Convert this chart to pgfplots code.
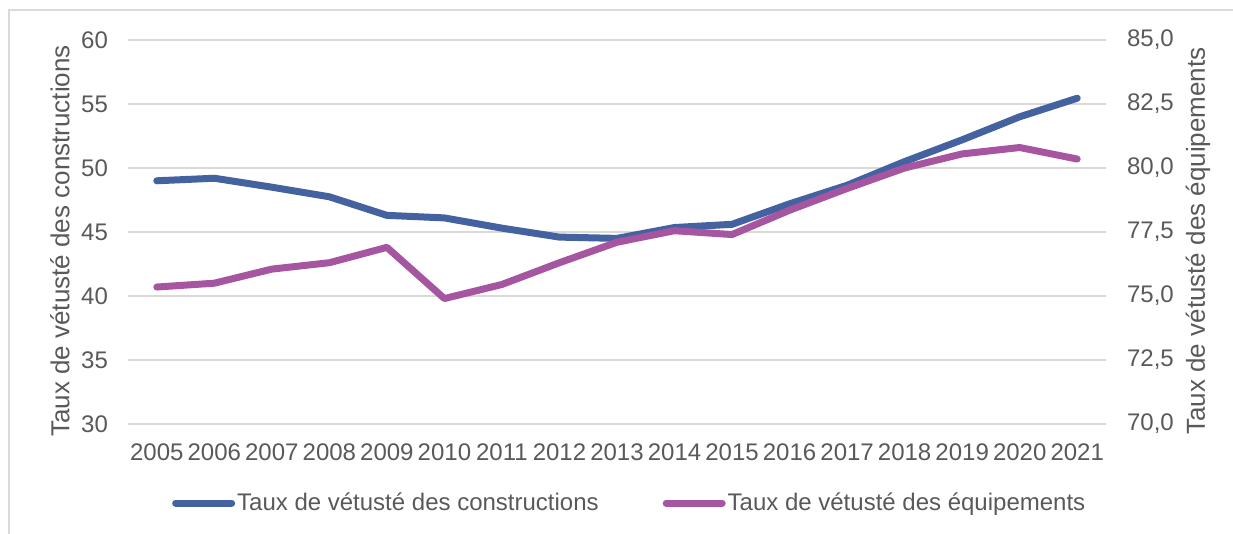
\documentclass[border=0pt]{standalone}
\usepackage{fontspec}
\setmainfont{Liberation Sans}
\usepackage{pgfplots}
\usepackage{pgfplotstable}
\pgfplotsset{compat=1.18}
\definecolor{cblue}{RGB}{68,98,160}
\definecolor{cpurple}{RGB}{166,86,160}
\definecolor{ctext}{RGB}{89,89,89}
\definecolor{cgrid}{RGB}{217,217,217}

\pgfplotstableread{
x c e
0 49.0 75.35
1 49.2 75.5
2 48.5 76.05
3 47.75 76.3
4 46.3 76.9
5 46.1 74.9
6 45.3 75.45
7 44.6 76.3
8 44.5 77.1
9 45.35 77.55
10 45.6 77.4
11 47.2 78.35
12 48.65 79.2
13 50.5 80.0
14 52.2 80.55
15 54.0 80.8
16 55.45 80.35
}\data

\pgfplotsset{
 common/.style={
  scale only axis, width=489pt, height=192pt, at={(64pt,55pt)}, anchor=south west,
  xmin=-0.5, xmax=16.5,
  axis line style={draw=none},
  major tick length=0pt,
  tick label style={font=\fontsize{12}{14}\selectfont, text=ctext},
  /pgf/number format/assume math mode=true,
 },
 series/.style={line width=3.5pt, line join=round, line cap=round},
}

\begin{document}
\begin{tikzpicture}
\useasboundingbox (0,0) rectangle (616.5pt,267pt);
\draw[cgrid, line width=0.7pt] (4.5pt,-5pt) -- (4.5pt,262pt) -- (630pt,262pt);

\begin{axis}[common,
  ymin=30, ymax=60, ytick={30,35,...,60},
  xtick={0,...,16},
  xticklabels={2005,2006,2007,2008,2009,2010,2011,2012,2013,2014,2015,2016,2017,2018,2019,2020,2021},
  ymajorgrids, grid style={cgrid, line width=0.8pt},
  yticklabel style={xshift=-6.5pt},
  xticklabel style={yshift=-6.25pt},
  ylabel={Taux de vétusté des constructions},
  every axis y label/.style={at={(axis description cs:-0.0695,0.4766)}, rotate=90, anchor=center, font=\fontsize{13}{15}\selectfont, text=ctext},
]
\addplot[series, cblue] table[x=x, y=c] {\data};
\end{axis}

\begin{axis}[common,
  axis y line*=right, axis x line=none,
  ymin=70, ymax=85, ytick={70,72.5,...,85},
  yticklabel style={xshift=7pt, /pgf/number format/.cd, fixed, fixed zerofill, precision=1, use comma},
  ylabel={Taux de vétusté des équipements},
  every axis y label/.style={at={(axis description cs:1.094,0.4766)}, rotate=90, anchor=center, font=\fontsize{13}{15}\selectfont, text=ctext},
  legend columns=2,
  legend style={at={(0.513,-0.206)}, anchor=center, draw=none, fill=none,
    font=\fontsize{12}{14}\selectfont, text=ctext,
    nodes={inner sep=1pt},
    /tikz/every even column/.append style={column sep=31pt}},
  legend image code/.code={\draw[#1] (0pt,0pt) -- (28pt,0pt);},
]
\addlegendimage{series, cblue}
\addlegendentry{Taux de vétusté des constructions}
\addplot[series, cpurple] table[x=x, y=e] {\data};
\addlegendentry{Taux de vétusté des équipements}
\end{axis}
\end{tikzpicture}
\end{document}
